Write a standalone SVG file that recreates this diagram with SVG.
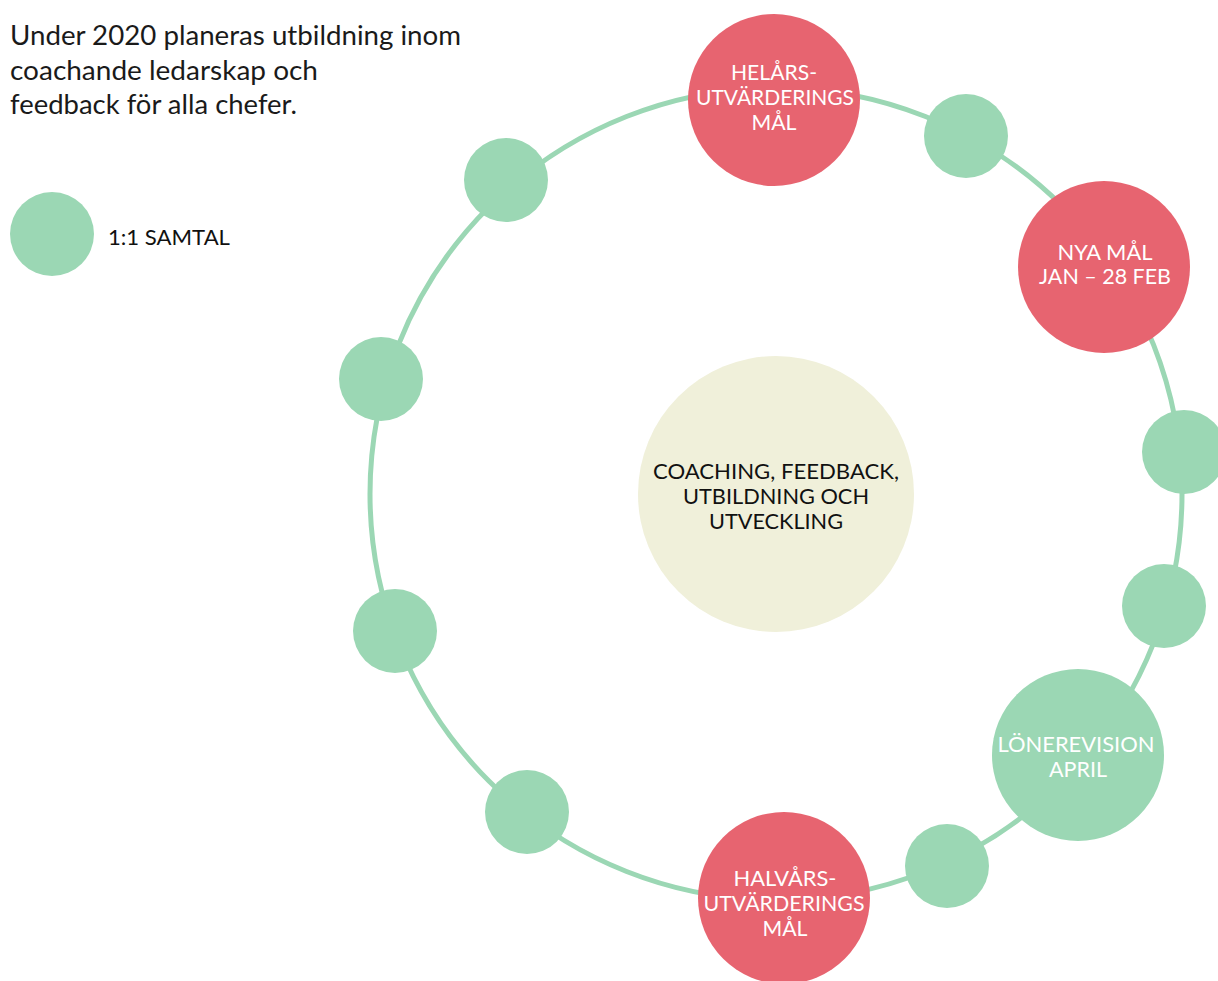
<svg xmlns="http://www.w3.org/2000/svg" width="1218" height="981" viewBox="0 0 1218 981">
  <style>
    .ring { fill: none; stroke: #9bd7b4; stroke-width: 5; }
    .green { fill: #9bd7b4; }
    .red { fill: #e76470; }
    .core { fill: #f0f0da; }
    text { font-family: "Lato", "Noto Sans", "Liberation Sans", sans-serif; }
    .intro { font-size: 27px; fill: #1a1a1a; }
    .legend { font-size: 21px; fill: #111; }
    .lbl { font-size: 21px; fill: #ffffff; text-anchor: middle; }
    .lbl-dark { font-size: 21px; fill: #111111; text-anchor: middle; }
  </style>

  <!-- intro text -->
  <g id="intro">
    <text class="intro" x="10" y="45" textLength="451" lengthAdjust="spacingAndGlyphs">Under 2020 planeras utbildning inom</text>
    <text class="intro" x="10" y="80" textLength="308" lengthAdjust="spacingAndGlyphs">coachande ledarskap och</text>
    <text class="intro" x="10" y="114" textLength="287" lengthAdjust="spacingAndGlyphs">feedback för alla chefer.</text>
  </g>

  <!-- legend -->
  <g id="legend">
    <circle class="green" cx="52" cy="234" r="42"/>
    <text class="legend" x="108" y="245" textLength="122" lengthAdjust="spacingAndGlyphs">1:1 SAMTAL</text>
  </g>

  <!-- yearly cycle ring -->
  <g id="connectors">
    <circle class="ring" cx="776" cy="494" r="406"/>
  </g>

  <g id="center">
    <circle class="core" cx="776" cy="494" r="138"/>
    <text class="lbl-dark" x="776" y="479" textLength="246" lengthAdjust="spacingAndGlyphs">COACHING, FEEDBACK,</text>
    <text class="lbl-dark" x="776" y="504" textLength="186" lengthAdjust="spacingAndGlyphs">UTBILDNING OCH</text>
    <text class="lbl-dark" x="776" y="529" textLength="134" lengthAdjust="spacingAndGlyphs">UTVECKLING</text>
  </g>

  <!-- one-to-one talks -->
  <g id="talk-1"><circle class="green" cx="506" cy="180" r="42"/></g>
  <g id="talk-2"><circle class="green" cx="966" cy="136" r="42"/></g>
  <g id="talk-3"><circle class="green" cx="381" cy="379" r="42"/></g>
  <g id="talk-4"><circle class="green" cx="1184" cy="452" r="42"/></g>
  <g id="talk-5"><circle class="green" cx="1164" cy="606" r="42"/></g>
  <g id="talk-6"><circle class="green" cx="395" cy="631" r="42"/></g>
  <g id="talk-7"><circle class="green" cx="527" cy="812" r="42"/></g>
  <g id="talk-8"><circle class="green" cx="947" cy="866" r="42"/></g>

  <g id="helars">
    <circle class="red" cx="774" cy="100" r="86"/>
    <text class="lbl" x="774" y="80" textLength="86" lengthAdjust="spacingAndGlyphs">HELÅRS-</text>
    <text class="lbl" x="775" y="105" textLength="158" lengthAdjust="spacingAndGlyphs">UTVÄRDERINGS</text>
    <text class="lbl" x="774" y="130" textLength="45" lengthAdjust="spacingAndGlyphs">MÅL</text>
  </g>

  <g id="nya-mal">
    <circle class="red" cx="1104" cy="267" r="86"/>
    <text class="lbl" x="1105" y="260" textLength="95" lengthAdjust="spacingAndGlyphs">NYA MÅL</text>
    <text class="lbl" x="1105" y="284" textLength="132" lengthAdjust="spacingAndGlyphs">JAN – 28 FEB</text>
  </g>

  <g id="lonerevision">
    <circle class="green" cx="1078" cy="755" r="86"/>
    <text class="lbl" x="1076" y="752" textLength="157" lengthAdjust="spacingAndGlyphs">LÖNEREVISION</text>
    <text class="lbl" x="1078" y="777" textLength="58" lengthAdjust="spacingAndGlyphs">APRIL</text>
  </g>

  <g id="halvars">
    <circle class="red" cx="784" cy="898" r="86"/>
    <text class="lbl" x="785" y="886" textLength="103" lengthAdjust="spacingAndGlyphs">HALVÅRS-</text>
    <text class="lbl" x="784" y="911" textLength="161" lengthAdjust="spacingAndGlyphs">UTVÄRDERINGS</text>
    <text class="lbl" x="785" y="936" textLength="45" lengthAdjust="spacingAndGlyphs">MÅL</text>
  </g>
</svg>
